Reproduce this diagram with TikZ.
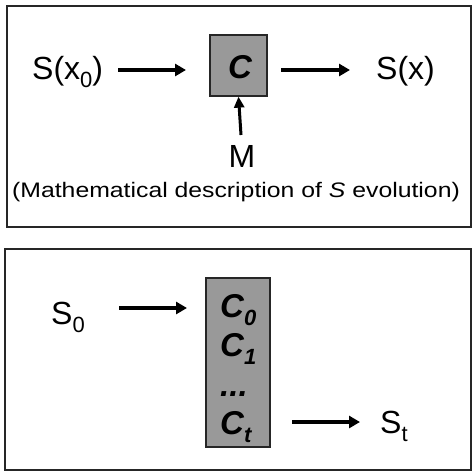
\documentclass[tikz,border=0pt]{standalone}
\usepackage{fontspec}
\setmainfont{Liberation Sans}
\usetikzlibrary{arrows.meta}

\newcommand\lowsub[1]{\raisebox{-8pt}{\fontsize{22}{22}\selectfont#1}}

\tikzset{
  frame/.style={draw=black!85, line width=1.3pt},
  opbox/.style={draw=black!85, line width=1.3pt, fill=black!40},
  flow/.style={line width=3.6pt, -{Triangle[length=11pt,width=12pt]}},
  lbl/.style={font=\fontsize{32}{34}\selectfont, inner sep=0pt},
  op/.style={font=\fontsize{33}{35}\selectfont\bfseries\itshape, inner sep=0pt}
}

\begin{document}
\begin{tikzpicture}[x=1pt,y=-1pt]

  \useasboundingbox (0,0) rectangle (473,472);

  % Frames
  \draw[frame] (7,6) rectangle (471,227);
  \draw[frame] (5,249) rectangle (471,470);

  % Upper panel
  \node[opbox, minimum width=57pt, minimum height=61pt, inner sep=0pt] (c) at (238.5,65.5) {};
  \node[op, anchor=base] (cop) at (240,78) {C};
  \node[lbl, anchor=base west] (sx0) at (32,79) {S(x\lowsub{0})};
  \node[lbl, anchor=base west] (sx) at (376,79) {S(x)};
  \node[lbl, anchor=base] (m) at (242,167) {M};
  \node[inner sep=0pt, anchor=base, font=\fontsize{21}{23}\selectfont] (desc) at (236,197)
    {\scalebox{1.18}[1]{(Mathematical description of \textit{S} evolution)}};

  \coordinate (a1s) at (118,70);
  \coordinate (a1e) at (186,70);
  \coordinate (a2s) at (281,70);
  \coordinate (a2e) at (350,70);
  \draw[flow] (a1s) -- (a1e);
  \draw[flow] (a2s) -- (a2e);
  \coordinate (ms) at (241,135);
  \draw[flow, line width=3pt, -{Triangle[length=11pt,width=10pt]}] (ms) -- (c.south);

  % Lower panel
  \node[opbox, minimum width=64pt, minimum height=169pt, inner sep=0pt] (cc) at (238,362.5) {};
  \node[op, anchor=base west] (c0) at (220,317) {C\lowsub{0}};
  \node[op, anchor=base west] (c1) at (220,356) {C\lowsub{1}};
  \node[op, anchor=base west] (dots) at (220,396) {...};
  \node[op, anchor=base west] (ct) at (220,434) {C\lowsub{t}};
  \node[lbl, anchor=base west] (s0) at (51,324) {S\lowsub{0}};
  \node[lbl, anchor=base west] (st) at (380,433) {S\lowsub{t}};

  \coordinate (b1s) at (119,308);
  \coordinate (b1e) at (187,308);
  \coordinate (b2s) at (292,422);
  \coordinate (b2e) at (360,422);
  \draw[flow] (b1s) -- (b1e);
  \draw[flow] (b2s) -- (b2e);

\end{tikzpicture}
\end{document}
